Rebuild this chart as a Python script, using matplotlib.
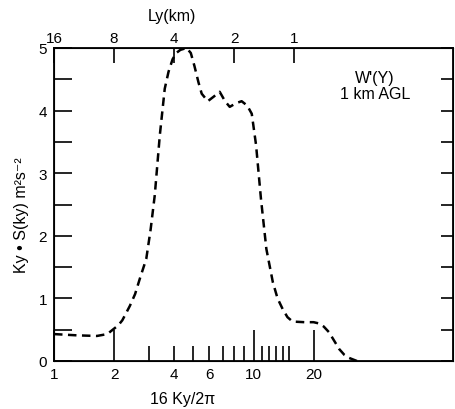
import matplotlib
matplotlib.use("Agg")
import matplotlib.pyplot as plt
from matplotlib.ticker import NullFormatter, NullLocator
import numpy as np

plt.rcParams['font.family'] = ['Liberation Sans', 'DejaVu Sans']

# curve: x = 16 Ky/2pi, y = Ky * S(ky)
k_scaled = [1.0, 1.3, 1.64, 1.85, 1.97, 2.1, 2.2, 2.4, 2.55, 2.69, 2.9, 3.05, 3.2, 3.39,
            3.59, 3.75, 3.93, 4.1, 4.3, 4.62, 4.85, 5.06, 5.3, 5.5, 5.9, 6.3, 6.77,
            7.2, 7.6, 8.2, 8.72, 9.3, 9.8, 10.3, 10.9, 11.6, 12.5, 13.2, 14.0,
            14.8, 15.7, 18.0, 20.0, 21.3, 22.5, 23.9, 25.3, 26.9, 28.5, 30.1, 33.0]
spectrum = [0.43, 0.41, 0.40, 0.43, 0.50, 0.57, 0.65, 0.88, 1.07, 1.31, 1.63, 2.1, 2.65, 3.6,
            4.35, 4.62, 4.82, 4.92, 4.97, 5.0, 4.92, 4.71, 4.45, 4.27, 4.15, 4.22, 4.3,
            4.15, 4.06, 4.12, 4.15, 4.08, 3.95, 3.45, 2.59, 1.79, 1.26, 1.0, 0.83,
            0.7, 0.63, 0.62, 0.62, 0.6, 0.55, 0.46, 0.33, 0.19, 0.1, 0.05, 0.0]

bottom_labels = [1, 2, 4, 6, 10, 20]
bottom_minor = [3, 5, 7, 8, 9, 11, 12, 13, 14, 15]
top_labels = [16, 8, 4, 2, 1]   # Ly (km) = 16 / x
y_ticks = [0, 1, 2, 3, 4, 5]

fig = plt.figure(figsize=(4.55, 4.1), dpi=100)
ax = fig.add_axes([54/455, 48/410, 399/455, 313/410])

ax.plot(k_scaled, spectrum, color='black', lw=1.8, ls=(0, (3.4, 2.2)))

ax.set_xscale('log')
ax.set_xlim(1, 100)
ax.set_ylim(0, 5)
for s in ax.spines.values():
    s.set_linewidth(1.3)

ax.set_xticks(bottom_labels)
ax.set_xticklabels([str(v) for v in bottom_labels], fontsize=11)
ax.set_xticks(bottom_minor, minor=True)
ax.xaxis.set_minor_formatter(NullFormatter())
ax.tick_params(axis='x', which='major', direction='in', length=22, width=1.2, pad=4)
ax.tick_params(axis='x', which='minor', direction='in', length=11, width=1.2)
for t, v in zip(ax.xaxis.get_major_ticks(), bottom_labels):
    if v in (4, 6):
        t.tick1line.set_markersize(11)

ax.set_yticks(y_ticks)
ax.set_yticks(np.arange(0.5, 5, 1.0), minor=True)
ax.tick_params(axis='y', which='both', direction='in', length=13, width=1.2,
               right=True, labelsize=11, pad=5)
for t in ax.yaxis.get_major_ticks() + ax.yaxis.get_minor_ticks():
    t.tick2line.set_markersize(9)

ax.set_xlabel('16 Ky/2\u03c0', fontsize=11.5)
ax.xaxis.set_label_coords(0.323, -0.095)
ax.set_ylabel('Ky \u2022 S(ky) m\u00b2s\u207b\u00b2', fontsize=11.5)
ax.yaxis.set_label_coords(-0.062, 0.47)

top = ax.twiny()
top.set_xscale('log')
top.set_xlim(ax.get_xlim())
top.set_xticks([16 / v for v in top_labels])
top.set_xticklabels([str(v) for v in top_labels], fontsize=11)
top.xaxis.set_minor_locator(NullLocator())
top.tick_params(axis='x', direction='in', length=11, width=1.2, pad=2)
top.set_xlabel('Ly(km)', fontsize=11.5)
top.xaxis.set_label_coords(0.296, 1.09)

ax.text(0.805, 0.88, "W'(Y)\n1 km AGL", transform=ax.transAxes, ha='center', va='center',
        fontsize=11.5, linespacing=1.05)

fig.savefig('out.png', dpi=100)
